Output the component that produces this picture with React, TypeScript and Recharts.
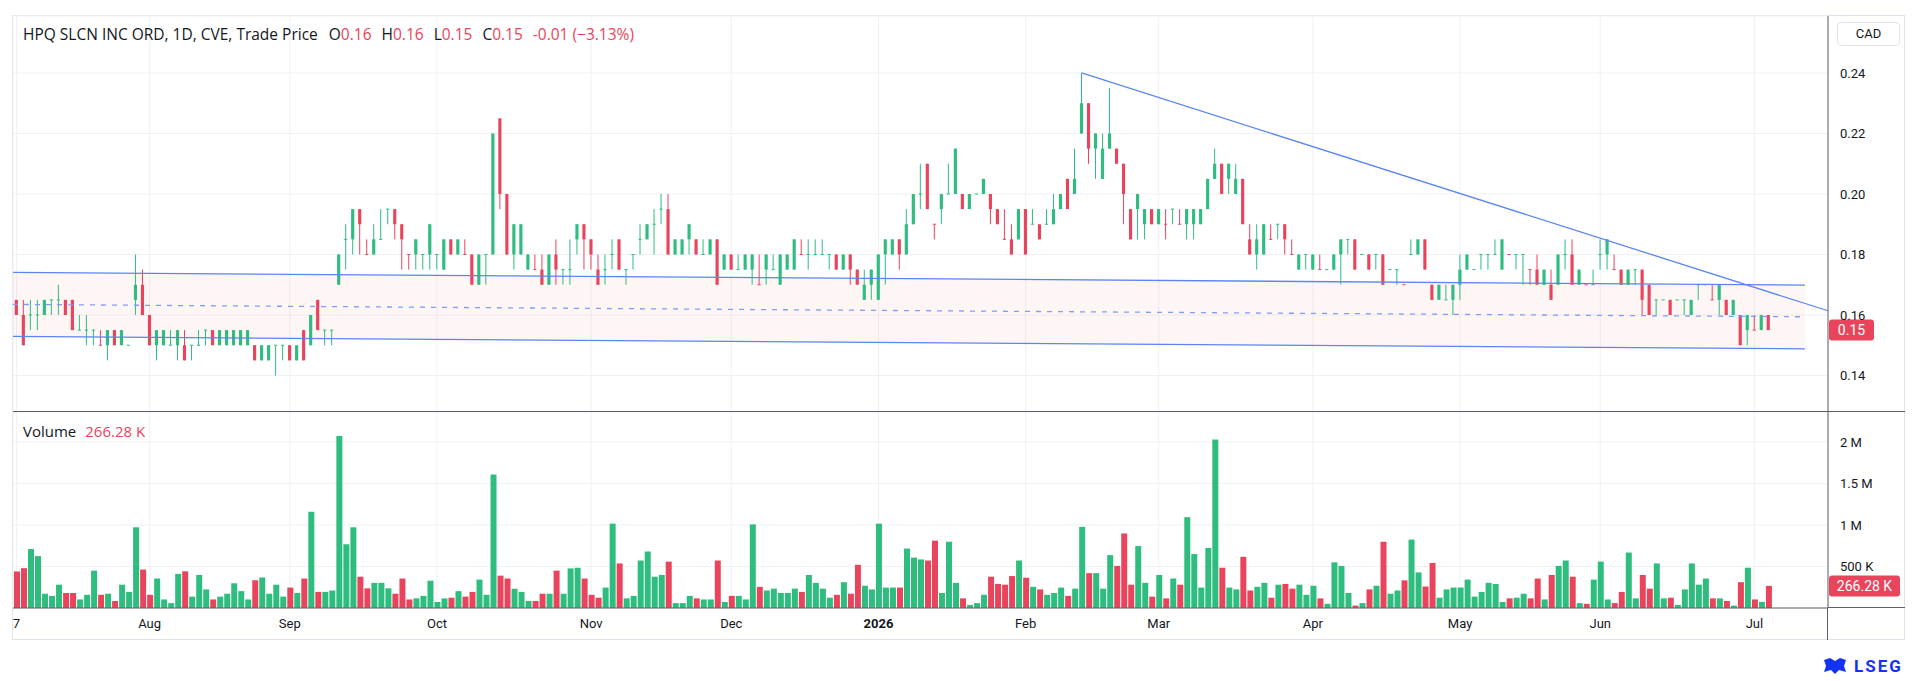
import React from 'react';
import { ComposedChart, Bar, XAxis, YAxis, CartesianGrid, ReferenceLine, Area, Cell } from 'recharts';

const GREEN = '#2ebd7f';
const RED = '#e8455d';
const BLUE = '#5a85f2';
const BLUE_DASH = '#7f9ff5';
const BAND_FILL = 'rgba(242, 80, 80, 0.06)';
const GRID = '#f0f1f4';
const AXIS = '#5d606b';
const TEXT = '#131722';
const FONT = "Roboto, 'Noto Sans', Arial, sans-serif";
const LABEL_FONT = "'Open Sans', 'Noto Sans', Arial, sans-serif";

const opens = [
  0.165, 0.16, 0.16, 0.16, 0.16, 0.165, 0.165, 0.165, 0.165, 0.155,
  0.155, 0.155, 0.15, 0.15, 0.155, 0.15, 0.15, 0.165, 0.17, 0.16,
  0.15, 0.15, 0.15, 0.15, 0.15, 0.15, 0.15, 0.155, 0.155, 0.15,
  0.15, 0.15, 0.15, 0.15, 0.15, 0.145, 0.145, 0.15, 0.15, 0.15,
  0.145, 0.155, 0.15,
  0.165, 0.155, 0.155, 0.17, 0.185, 0.185, 0.195, 0.18, 0.18, 0.185,
  0.195, 0.195, 0.19, 0.18, 0.18, 0.18, 0.18, 0.18, 0.175, 0.185,
  0.18, 0.18, 0.18, 0.17, 0.18, 0.18, 0.225, 0.2, 0.18, 0.18,
  0.175, 0.175, 0.175, 0.17, 0.18, 0.175, 0.175, 0.185, 0.19, 0.185,
  0.175, 0.175, 0.18,
  0.185, 0.175, 0.18, 0.185, 0.185, 0.19, 0.195, 0.195, 0.18, 0.18,
  0.185, 0.185, 0.18, 0.18, 0.185, 0.175, 0.18, 0.175, 0.175, 0.175,
  0.17, 0.175, 0.175, 0.17, 0.175, 0.175, 0.18, 0.18, 0.18, 0.18,
  0.18, 0.18, 0.175, 0.18, 0.175, 0.165, 0.17, 0.165, 0.18, 0.18,
  0.185, 0.18, 0.19,
  0.2, 0.21, 0.19, 0.195, 0.2, 0.2, 0.2, 0.195, 0.2, 0.2,
  0.2, 0.195, 0.185, 0.185, 0.185, 0.195, 0.19, 0.19, 0.19, 0.19,
  0.195, 0.205, 0.2, 0.22, 0.23, 0.215, 0.205, 0.215, 0.215, 0.21,
  0.195, 0.195, 0.19, 0.195, 0.19, 0.19, 0.195, 0.19, 0.19, 0.19,
  0.19, 0.195,
  0.205, 0.21, 0.205, 0.2, 0.205, 0.185, 0.18, 0.18, 0.185, 0.19,
  0.19, 0.18, 0.175, 0.18, 0.175, 0.175, 0.175, 0.175, 0.18, 0.185,
  0.185, 0.18, 0.18, 0.18, 0.18, 0.175, 0.175, 0.17, 0.18, 0.18,
  0.185, 0.17, 0.165, 0.165, 0.165, 0.17, 0.175, 0.175, 0.18, 0.18,
  0.18, 0.175, 0.18,
  0.18, 0.18, 0.175, 0.175, 0.17, 0.17, 0.17, 0.18, 0.18, 0.17,
  0.17, 0.17, 0.18, 0.18, 0.175, 0.175, 0.17, 0.175, 0.175, 0.17,
  0.165, 0.165, 0.165, 0.165, 0.165, 0.16, 0.17, 0.17, 0.165, 0.165,
  0.165, 0.16, 0.16, 0.155, 0.155, 0.155, 0.16,
];

const highs = [
  0.165, 0.165, 0.165, 0.165, 0.165, 0.165, 0.17, 0.165, 0.165, 0.16,
  0.16, 0.155, 0.155, 0.155, 0.155, 0.155, 0.15, 0.18, 0.175, 0.16,
  0.155, 0.155, 0.155, 0.155, 0.155, 0.15, 0.155, 0.155, 0.155, 0.155,
  0.155, 0.155, 0.155, 0.155, 0.15, 0.15, 0.15, 0.15, 0.15, 0.15,
  0.15, 0.155, 0.16,
  0.165, 0.155, 0.155, 0.18, 0.19, 0.195, 0.195, 0.185, 0.19, 0.195,
  0.195, 0.195, 0.19, 0.18, 0.185, 0.18, 0.19, 0.18, 0.185, 0.185,
  0.185, 0.185, 0.18, 0.18, 0.18, 0.22, 0.225, 0.2, 0.19, 0.19,
  0.18, 0.18, 0.18, 0.18, 0.185, 0.175, 0.185, 0.19, 0.19, 0.185,
  0.18, 0.18, 0.185,
  0.185, 0.175, 0.18, 0.19, 0.19, 0.195, 0.2, 0.2, 0.185, 0.185,
  0.19, 0.185, 0.185, 0.185, 0.185, 0.18, 0.18, 0.18, 0.18, 0.18,
  0.18, 0.18, 0.18, 0.18, 0.18, 0.185, 0.185, 0.185, 0.185, 0.185,
  0.18, 0.18, 0.18, 0.18, 0.175, 0.175, 0.175, 0.18, 0.185, 0.185,
  0.185, 0.195, 0.2,
  0.21, 0.21, 0.19, 0.2, 0.21, 0.215, 0.2, 0.2, 0.2, 0.205,
  0.2, 0.195, 0.195, 0.19, 0.195, 0.195, 0.195, 0.19, 0.195, 0.2,
  0.2, 0.205, 0.215, 0.24, 0.23, 0.22, 0.22, 0.235, 0.215, 0.21,
  0.195, 0.2, 0.195, 0.195, 0.195, 0.195, 0.195, 0.195, 0.195, 0.195,
  0.195, 0.205,
  0.215, 0.21, 0.21, 0.21, 0.205, 0.19, 0.19, 0.19, 0.19, 0.19,
  0.19, 0.185, 0.18, 0.18, 0.18, 0.18, 0.175, 0.18, 0.185, 0.185,
  0.185, 0.18, 0.18, 0.18, 0.18, 0.175, 0.175, 0.17, 0.185, 0.185,
  0.185, 0.17, 0.17, 0.17, 0.17, 0.18, 0.18, 0.175, 0.18, 0.18,
  0.185, 0.185, 0.18,
  0.18, 0.18, 0.175, 0.18, 0.175, 0.175, 0.18, 0.185, 0.185, 0.175,
  0.17, 0.175, 0.185, 0.185, 0.18, 0.175, 0.175, 0.175, 0.175, 0.17,
  0.165, 0.165, 0.165, 0.165, 0.165, 0.165, 0.17, 0.17, 0.17, 0.17,
  0.165, 0.165, 0.16, 0.16, 0.16, 0.16, 0.16,
];

const lows = [
  0.16, 0.15, 0.155, 0.155, 0.16, 0.16, 0.16, 0.16, 0.155, 0.155,
  0.15, 0.15, 0.15, 0.145, 0.15, 0.15, 0.15, 0.16, 0.16, 0.15,
  0.145, 0.15, 0.15, 0.145, 0.145, 0.145, 0.15, 0.15, 0.15, 0.15,
  0.15, 0.15, 0.15, 0.15, 0.145, 0.145, 0.145, 0.14, 0.145, 0.145,
  0.145, 0.145, 0.15,
  0.155, 0.15, 0.15, 0.17, 0.175, 0.18, 0.18, 0.18, 0.18, 0.185,
  0.19, 0.185, 0.175, 0.175, 0.175, 0.175, 0.175, 0.175, 0.175, 0.18,
  0.18, 0.18, 0.17, 0.17, 0.17, 0.18, 0.195, 0.18, 0.175, 0.18,
  0.175, 0.175, 0.17, 0.17, 0.17, 0.17, 0.17, 0.18, 0.175, 0.175,
  0.17, 0.17, 0.175,
  0.175, 0.17, 0.175, 0.18, 0.185, 0.18, 0.19, 0.18, 0.18, 0.18,
  0.18, 0.18, 0.18, 0.18, 0.17, 0.175, 0.175, 0.175, 0.175, 0.17,
  0.17, 0.17, 0.175, 0.17, 0.175, 0.175, 0.18, 0.175, 0.18, 0.18,
  0.175, 0.175, 0.175, 0.17, 0.17, 0.165, 0.165, 0.165, 0.17, 0.18,
  0.175, 0.18, 0.19,
  0.195, 0.195, 0.185, 0.19, 0.2, 0.2, 0.195, 0.195, 0.2, 0.2,
  0.19, 0.19, 0.185, 0.18, 0.185, 0.18, 0.19, 0.185, 0.19, 0.19,
  0.195, 0.195, 0.2, 0.22, 0.21, 0.205, 0.205, 0.215, 0.21, 0.19,
  0.185, 0.185, 0.185, 0.19, 0.19, 0.185, 0.19, 0.19, 0.185, 0.185,
  0.19, 0.195,
  0.205, 0.2, 0.2, 0.2, 0.19, 0.18, 0.175, 0.18, 0.185, 0.185,
  0.18, 0.18, 0.175, 0.175, 0.175, 0.175, 0.175, 0.175, 0.17, 0.18,
  0.175, 0.18, 0.175, 0.175, 0.17, 0.175, 0.17, 0.17, 0.18, 0.18,
  0.175, 0.165, 0.165, 0.165, 0.16, 0.165, 0.175, 0.175, 0.175, 0.175,
  0.18, 0.175, 0.18,
  0.175, 0.17, 0.17, 0.17, 0.17, 0.165, 0.17, 0.175, 0.17, 0.17,
  0.17, 0.17, 0.175, 0.175, 0.175, 0.17, 0.17, 0.17, 0.16, 0.16,
  0.16, 0.165, 0.16, 0.165, 0.16, 0.16, 0.165, 0.17, 0.165, 0.16,
  0.16, 0.16, 0.15, 0.15, 0.155, 0.155, 0.155,
];

const closes = [
  0.16, 0.15, 0.16, 0.16, 0.165, 0.165, 0.165, 0.16, 0.155, 0.155,
  0.155, 0.155, 0.15, 0.155, 0.15, 0.155, 0.15, 0.17, 0.16, 0.15,
  0.155, 0.155, 0.15, 0.155, 0.145, 0.15, 0.15, 0.155, 0.15, 0.155,
  0.155, 0.155, 0.155, 0.155, 0.145, 0.15, 0.15, 0.15, 0.15, 0.145,
  0.15, 0.145, 0.16,
  0.155, 0.155, 0.155, 0.18, 0.185, 0.195, 0.19, 0.18, 0.185, 0.185,
  0.195, 0.19, 0.185, 0.18, 0.185, 0.18, 0.19, 0.18, 0.185, 0.18,
  0.185, 0.18, 0.17, 0.18, 0.18, 0.22, 0.2, 0.18, 0.19, 0.19,
  0.18, 0.175, 0.17, 0.18, 0.175, 0.175, 0.175, 0.19, 0.185, 0.18,
  0.17, 0.175, 0.18,
  0.175, 0.175, 0.18, 0.185, 0.19, 0.19, 0.195, 0.18, 0.185, 0.185,
  0.19, 0.18, 0.18, 0.185, 0.17, 0.18, 0.175, 0.175, 0.18, 0.18,
  0.17, 0.18, 0.175, 0.18, 0.18, 0.185, 0.18, 0.18, 0.18, 0.18,
  0.18, 0.175, 0.18, 0.175, 0.17, 0.17, 0.175, 0.18, 0.185, 0.185,
  0.18, 0.19, 0.2,
  0.2, 0.195, 0.19, 0.2, 0.2, 0.215, 0.195, 0.2, 0.2, 0.205,
  0.195, 0.19, 0.185, 0.18, 0.195, 0.18, 0.19, 0.185, 0.19, 0.195,
  0.2, 0.195, 0.205, 0.23, 0.215, 0.22, 0.215, 0.22, 0.21, 0.2,
  0.185, 0.2, 0.195, 0.19, 0.195, 0.19, 0.195, 0.19, 0.195, 0.195,
  0.195, 0.205,
  0.21, 0.2, 0.21, 0.205, 0.19, 0.18, 0.185, 0.19, 0.185, 0.19,
  0.185, 0.18, 0.18, 0.18, 0.18, 0.175, 0.175, 0.18, 0.185, 0.185,
  0.175, 0.18, 0.175, 0.18, 0.17, 0.175, 0.175, 0.17, 0.18, 0.185,
  0.175, 0.165, 0.17, 0.165, 0.17, 0.175, 0.18, 0.175, 0.18, 0.18,
  0.18, 0.185, 0.18,
  0.18, 0.18, 0.175, 0.17, 0.175, 0.165, 0.18, 0.18, 0.17, 0.175,
  0.17, 0.17, 0.18, 0.185, 0.175, 0.17, 0.175, 0.175, 0.165, 0.16,
  0.165, 0.165, 0.16, 0.165, 0.165, 0.165, 0.17, 0.17, 0.165, 0.17,
  0.16, 0.165, 0.15, 0.16, 0.155, 0.16, 0.155,
];

// thousands of shares
const volumes = [
  440, 480, 710, 625, 172, 146, 281, 181, 181, 103,
  159, 450, 159, 172, 85, 281, 194, 972, 463, 159,
  355, 103, 59, 411, 442, 137, 398, 224, 103, 137,
  172, 298, 203, 103, 333, 368, 172, 281, 137, 246,
  181, 355, 1159,
  194, 194, 211, 2072, 768, 972, 377, 237, 303, 303,
  237, 172, 355, 103, 116, 146, 329, 72, 116, 124,
  203, 137, 194, 342, 159, 1607, 390, 355, 233, 194,
  85, 85, 172, 172, 450, 172, 477, 485, 355, 159,
  124, 246, 1016,
  537, 116, 146, 572, 681, 377, 398, 559, 59, 59,
  146, 116, 103, 103, 572, 72, 146, 146, 103, 1007,
  255, 211, 233, 181, 181, 233, 194, 398, 303, 233,
  124, 159, 311, 172, 520, 268, 224, 1016, 246, 246,
  246, 716, 607,
  585, 572, 811, 181, 798, 303, 116, 37, 59, 159,
  377, 290, 281, 385, 572, 363, 255, 224, 159, 181,
  246, 146, 233, 977, 420, 420, 233, 637, 507, 898,
  281, 746, 303, 137, 398, 116, 355, 281, 1094, 650,
  246, 724,
  2029, 485, 246, 224, 616, 211, 255, 303, 124, 281,
  290, 233, 281, 159, 268, 116, 50, 550, 507, 181,
  29, 59, 224, 268, 798, 172, 211, 333, 824, 429,
  259, 542, 124, 224, 246, 246, 342, 137, 194, 303,
  290, 72, 116,
  124, 172, 116, 355, 103, 398, 507, 572, 377, 59,
  50, 342, 559, 103, 59, 194, 668, 116, 398, 233,
  537, 116, 124, 37, 224, 537, 281, 355, 116, 116,
  85, 29, 311, 485, 103, 72, 266.28,
];

// bars whose open equals close but are painted as down bars
const downDojis = [12, 50, 56, 64, 74, 106, 112, 131, 141, 164, 166, 179, 182, 186, 198, 213, 216, 224, 228, 242, 248];

const monthTicks = [0, 19, 39, 60, 82, 102, 123, 144, 163, 185, 206, 226, 248];
const monthLabels = ['7', 'Aug', 'Sep', 'Oct', 'Nov', 'Dec', '2026', 'Feb', 'Mar', 'Apr', 'May', 'Jun', 'Jul'];

const priceTicks = [0.14, 0.16, 0.18, 0.2, 0.22, 0.24];
const volumeTicks = [500000, 1000000, 1500000, 2000000];
const volumeTickLabels = ['500 K', '1 M', '1.5 M', '2 M'];

// drawn objects: [start index, start price, end index, end price]
const channelUpper = [-0.5, 0.1741, 255.2, 0.1699];
const channelMid = [-0.5, 0.1635, 255.2, 0.1594];
const channelLower = [-0.5, 0.1529, 255.2, 0.1488];
const trendLine = [152, 0.24, 258.5, 0.1614];

const X_DOMAIN: [number, number] = [-0.5, 258.5];
const PRICE_DOMAIN: [number, number] = [0.12793, 0.25884];
const VOLUME_DOMAIN: [number, number] = [0, 2361000];

const rows = opens.map((o, i) => {
  const c = closes[i];
  const up = c > o || (c === o && !downDojis.includes(i));
  return { i, o, h: highs[i], l: lows[i], c, v: volumes[i] * 1000, up };
});

const bandRows = [
  { i: channelLower[0], band: [channelLower[1], channelUpper[1]] },
  { i: channelLower[2], band: [channelLower[3], channelUpper[3]] },
];

const seg = (s: number[]) => [
  { x: s[0], y: s[1] },
  { x: s[2], y: s[3] },
];

function Candle(props: any) {
  const { x, y, width, height, payload } = props;
  if (x == null || y == null || !payload) return null;
  const { o, h, l, c, up } = payload;
  const color = up ? GREEN : RED;
  const top0 = Math.min(y, y + height);
  const hh = Math.abs(height);
  const span = h - l;
  const ppu = span > 0 ? hh / span : 0;
  const yAt = (v: number) => top0 + (h - v) * ppu;
  const bTop = yAt(Math.max(o, c));
  const bBot = yAt(Math.min(o, c));
  const cx = x + width / 2;
  return (
    <g>
      {span > 0 && <line x1={cx} x2={cx} y1={top0} y2={top0 + hh} stroke={color} strokeWidth={1} />}
      {o === c ? (
        <rect x={x} y={bTop - 0.5} width={width} height={1} fill={color} />
      ) : (
        <rect x={x} y={bTop} width={width} height={Math.max(1, bBot - bTop)} fill={color} />
      )}
    </g>
  );
}

function Tag(props: any) {
  const { viewBox, text, w } = props;
  if (!viewBox) return null;
  const x0 = viewBox.x + viewBox.width + 1;
  const yc = viewBox.y;
  return (
    <g>
      <rect x={x0} y={yc - 10.5} width={w} height={21} rx={3} fill={RED} />
      <text x={x0 + w / 2} y={yc} dy="0.36em" textAnchor="middle" fill="#ffffff" fontSize={14} fontFamily={FONT}>
        {text}
      </text>
    </g>
  );
}

const tickStyle = { fill: TEXT, fontSize: 13, fontFamily: FONT };

export default function App() {
  return (
    <div style={{ position: 'absolute', left: 0, top: 0, width: 1920, height: 681, background: '#ffffff', fontFamily: FONT, overflow: 'hidden' }}>
      {/* frame */}
      <div style={{ position: 'absolute', left: 12, top: 15, width: 1893, height: 625, border: '1px solid #e0e3eb', boxSizing: 'border-box' }} />

      <div style={{ position: 'absolute', left: 0, top: 0 }}>
        <ComposedChart width={1920} height={412} data={rows} margin={{ top: 16, right: 15, bottom: 0, left: 13 }}>
          <CartesianGrid stroke={GRID} />
          <XAxis dataKey="i" type="number" domain={X_DOMAIN} ticks={monthTicks} allowDataOverflow hide />
          <YAxis
            orientation="right"
            width={77}
            domain={PRICE_DOMAIN}
            ticks={priceTicks}
            allowDataOverflow
            tickFormatter={(v: number) => v.toFixed(2)}
            axisLine={{ stroke: AXIS }}
            tickLine={false}
            tickMargin={6}
            tick={tickStyle}
          />
          <Area data={bandRows} dataKey="band" type="linear" stroke="none" fill={BAND_FILL} fillOpacity={1} isAnimationActive={false} />
          <ReferenceLine segment={seg(channelUpper)} stroke={BLUE} strokeWidth={1.3} ifOverflow="visible" />
          <ReferenceLine segment={seg(channelLower)} stroke={BLUE} strokeWidth={1.3} ifOverflow="visible" />
          <ReferenceLine segment={seg(channelMid)} stroke={BLUE_DASH} strokeWidth={1.3} strokeDasharray="5 6" ifOverflow="visible" />
          <ReferenceLine segment={seg(trendLine)} stroke={BLUE} strokeWidth={1.3} ifOverflow="visible" />
          <Bar dataKey={(d: any) => [d.l, d.h]} barSize={5} shape={(p: any) => <Candle {...p} />} isAnimationActive={false} />
          <ReferenceLine y={closes[closes.length - 1]} stroke="none" label={<Tag text="0.15" w={45} />} />
        </ComposedChart>
      </div>

      <div style={{ position: 'absolute', left: 0, top: 412 }}>
        <ComposedChart width={1920} height={268} data={rows} margin={{ top: 0, right: 15, bottom: 42, left: 13 }}>
          <CartesianGrid stroke={GRID} />
          <XAxis
            dataKey="i"
            type="number"
            domain={X_DOMAIN}
            ticks={monthTicks}
            interval={0}
            allowDataOverflow
            height={30}
            tickFormatter={(v: number) => monthLabels[monthTicks.indexOf(v)] ?? ''}
            axisLine={{ stroke: AXIS }}
            tickLine={false}
            tickMargin={5}
            tick={(p: any) => {
              const label = monthLabels[monthTicks.indexOf(p.payload.value)] ?? '';
              return (
                <text x={p.x} y={p.y} dy="0.71em" textAnchor="middle" fill={TEXT} fontSize={13} fontFamily={FONT} fontWeight={label === '2026' ? 700 : 400}>
                  {label}
                </text>
              );
            }}
          />
          <YAxis
            orientation="right"
            width={77}
            domain={VOLUME_DOMAIN}
            ticks={volumeTicks}
            allowDataOverflow
            tickFormatter={(v: number) => volumeTickLabels[volumeTicks.indexOf(v)] ?? ''}
            axisLine={{ stroke: AXIS }}
            tickLine={false}
            tickMargin={6}
            tick={tickStyle}
          />
          <Bar dataKey="v" barSize={6} isAnimationActive={false}>
            {rows.map((r) => (
              <Cell key={r.i} fill={r.up ? GREEN : RED} />
            ))}
          </Bar>
          <ReferenceLine y={volumes[volumes.length - 1] * 1000} stroke="none" label={<Tag text="266.28 K" w={71} />} />
        </ComposedChart>
      </div>

      {/* pane separators and axis extensions */}
      <div style={{ position: 'absolute', left: 13, top: 411, width: 1892, height: 1, background: AXIS }} />
      <div style={{ position: 'absolute', left: 1828, top: 607, width: 77, height: 1, background: AXIS }} />
      <div style={{ position: 'absolute', left: 1827, top: 608, width: 1, height: 32, background: AXIS }} />

      {/* header */}
      <div style={{ position: 'absolute', left: 23, top: 24, fontFamily: LABEL_FONT, fontSize: 15.5, lineHeight: '20px', color: TEXT, whiteSpace: 'pre' }}>
        <span>HPQ SLCN INC ORD, 1D, CVE, Trade Price</span>
        <span style={{ marginLeft: 11 }}>O</span><span style={{ color: RED }}>0.16</span>
        <span style={{ marginLeft: 10 }}>H</span><span style={{ color: RED }}>0.16</span>
        <span style={{ marginLeft: 10 }}>L</span><span style={{ color: RED }}>0.15</span>
        <span style={{ marginLeft: 10 }}>C</span><span style={{ color: RED }}>0.15</span>
        <span style={{ marginLeft: 10, color: RED }}>-0.01 (−3.13%)</span>
      </div>

      <div style={{ position: 'absolute', left: 23, top: 421, fontFamily: LABEL_FONT, fontSize: 15, lineHeight: '20px', color: TEXT, whiteSpace: 'pre' }}>
        <span>Volume</span>
        <span style={{ marginLeft: 9, color: RED }}>266.28 K</span>
      </div>

      {/* currency box */}
      <div style={{ position: 'absolute', left: 1837, top: 22, width: 63, height: 24, border: '1px solid #e0e3eb', borderRadius: 4, boxSizing: 'border-box', fontSize: 13, lineHeight: '22px', color: TEXT, textAlign: 'center' }}>
        CAD
      </div>

      {/* brand */}
      <div style={{ position: 'absolute', left: 1822, top: 655, height: 22, display: 'flex', alignItems: 'center', gap: 6, color: '#1432f5' }}>
        <svg width={26} height={18} viewBox="0 0 26 18">
          <path d="M2 3 L8 1 L13 4 L18 1 L24 3 L22 9 L24 15 L17 13 L13 17 L9 13 L2 15 L4 9 Z" fill="#1432f5" />
        </svg>
        <span style={{ fontSize: 17, fontWeight: 700, letterSpacing: 2 }}>LSEG</span>
      </div>
    </div>
  );
}
